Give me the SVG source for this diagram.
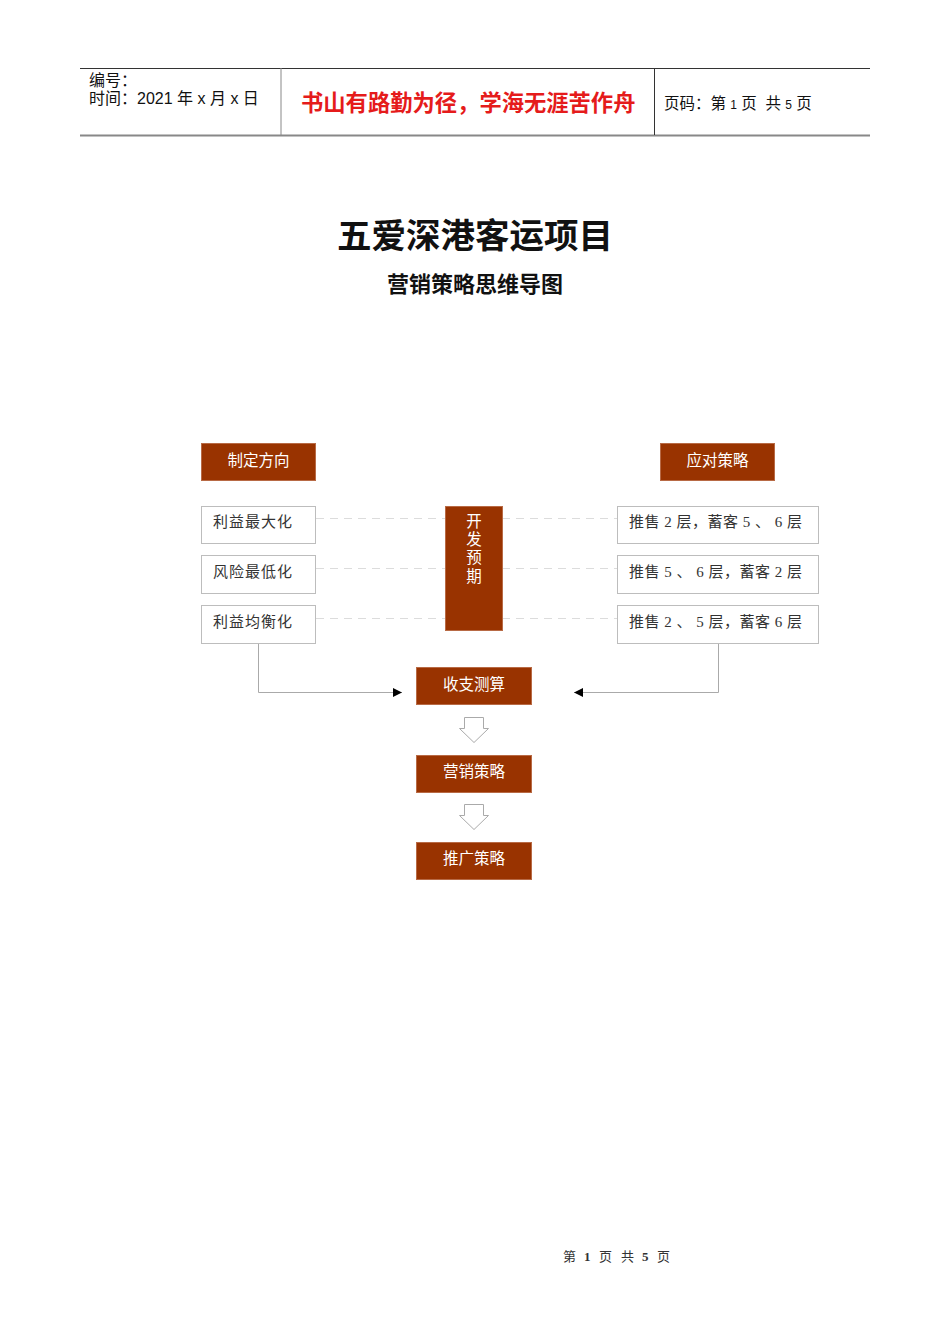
<svg xmlns="http://www.w3.org/2000/svg" width="950" height="1344" viewBox="0 0 950 1344">
<defs>
<style>
.hdr{font-family:"Liberation Sans","Noto Sans CJK SC",sans-serif;fill:#111}
.brown rect{fill:#993300;stroke:#b86a45;stroke-width:1}
.brown text{font-family:"Liberation Sans","Noto Sans CJK SC",sans-serif;font-size:15.5px;fill:#fff;text-anchor:middle}
.white rect{fill:#fff;stroke:#bdbdbd;stroke-width:1}
.white text{font-family:"Liberation Serif","Noto Sans CJK SC",serif;font-size:15px;fill:#333;letter-spacing:1px}
.white text.r{letter-spacing:0.5px}
.dash{stroke:#dcdcdc;stroke-width:1;stroke-dasharray:8,6;fill:none}
.conn{stroke:#aaa;stroke-width:1;fill:none}
.hollow{fill:#fff;stroke:#aaa;stroke-width:1}
.ft{font-family:"Liberation Serif","Noto Sans CJK SC",serif;font-size:13px;fill:#333}
</style>
<marker id="ah" viewBox="0 0 10 10" refX="10" refY="5" markerWidth="9" markerHeight="9" markerUnits="userSpaceOnUse" orient="auto">
<path d="M0,0 L10,5 L0,10 Z" fill="#000"/>
</marker>
</defs>
<rect width="950" height="1344" fill="#fff"/>

<g id="header">
<line x1="80" y1="68.5" x2="870" y2="68.5" stroke="#333" stroke-width="1"/>
<line x1="80" y1="135.5" x2="870" y2="135.5" stroke="#888" stroke-width="2"/>
<line x1="281" y1="68" x2="281" y2="135" stroke="#888" stroke-width="1"/>
<line x1="654.5" y1="68" x2="654.5" y2="135" stroke="#333" stroke-width="1"/>
<text class="hdr" x="89" y="86" font-size="16">编号：</text>
<text class="hdr" x="89" y="104" font-size="16">时间：2021 年 x 月 x 日</text>
<text x="301" y="111" font-family="Liberation Sans,Noto Sans CJK SC,sans-serif" font-size="22.3" font-weight="bold" fill="#e51b1b">书山有路勤为径，学海无涯苦作舟</text>
<text class="hdr" x="664" y="109" font-size="15.5" xml:space="preserve">页码：第 <tspan font-size="12">1</tspan> 页  共 <tspan font-size="12">5</tspan> 页</text>
</g>

<g id="title">
<text x="475" y="248" font-family="Liberation Sans,Noto Sans CJK SC,sans-serif" font-size="34.5" font-weight="bold" fill="#111" text-anchor="middle">五爱深港客运项目</text>
<text x="475" y="292" font-family="Liberation Sans,Noto Sans CJK SC,sans-serif" font-size="22" font-weight="bold" fill="#111" text-anchor="middle">营销策略思维导图</text>
</g>

<g id="connectors">
<line class="dash" x1="316" y1="518.5" x2="445" y2="518.5"/>
<line class="dash" x1="316" y1="568.5" x2="445" y2="568.5"/>
<line class="dash" x1="316" y1="618.5" x2="445" y2="618.5"/>
<line class="dash" x1="502" y1="518.5" x2="617" y2="518.5"/>
<line class="dash" x1="502" y1="568.5" x2="617" y2="568.5"/>
<line class="dash" x1="502" y1="618.5" x2="617" y2="618.5"/>
<polyline class="conn" points="258.5,643 258.5,692.5 402,692.5" marker-end="url(#ah)"/>
<polyline class="conn" points="718.5,643 718.5,692.5 574,692.5" marker-end="url(#ah)"/>
<path class="hollow" d="M464.5,717.5 H483.5 V728.5 H488.5 L474,742.5 L459.5,728.5 H464.5 Z"/>
<path class="hollow" d="M464.5,804.5 H483.5 V815.5 H488.5 L474,829.5 L459.5,815.5 H464.5 Z"/>
</g>

<g id="n-direction" class="brown"><rect x="201.5" y="443.5" width="114" height="37"/><text x="258.5" y="466">制定方向</text></g>
<g id="n-strategy" class="brown"><rect x="660.5" y="443.5" width="114" height="37"/><text x="717.5" y="466">应对策略</text></g>

<g id="n-l1" class="white"><rect x="201.5" y="506.5" width="114" height="37"/><text x="213" y="527">利益最大化</text></g>
<g id="n-l2" class="white"><rect x="201.5" y="555.5" width="114" height="38"/><text x="213" y="577">风险最低化</text></g>
<g id="n-l3" class="white"><rect x="201.5" y="605.5" width="114" height="38"/><text x="213" y="627">利益均衡化</text></g>

<g id="n-expect" class="brown"><rect x="445.5" y="506.5" width="57" height="124"/>
<text x="474" y="527">开</text><text x="474" y="545">发</text><text x="474" y="563">预</text><text x="474" y="582">期</text></g>

<g id="n-r1" class="white"><rect x="617.5" y="506.5" width="201" height="37"/><text class="r" x="629" y="527">推售 2 层，蓄客 5 、 6 层</text></g>
<g id="n-r2" class="white"><rect x="617.5" y="555.5" width="201" height="38"/><text class="r" x="629" y="577">推售 5 、 6 层，蓄客 2 层</text></g>
<g id="n-r3" class="white"><rect x="617.5" y="605.5" width="201" height="38"/><text class="r" x="629" y="627">推售 2 、 5 层，蓄客 6 层</text></g>

<g id="n-budget" class="brown"><rect x="416.5" y="667.5" width="115" height="37"/><text x="474" y="690">收支测算</text></g>
<g id="n-marketing" class="brown"><rect x="416.5" y="755.5" width="115" height="37"/><text x="474" y="777">营销策略</text></g>
<g id="n-promo" class="brown"><rect x="416.5" y="842.5" width="115" height="37"/><text x="474" y="864">推广策略</text></g>

<g id="footer">
<text class="ft" x="563" y="1261">第</text>
<text class="ft" x="584" y="1261" font-weight="bold">1</text>
<text class="ft" x="599" y="1261">页</text>
<text class="ft" x="621" y="1261">共</text>
<text class="ft" x="642" y="1261" font-weight="bold">5</text>
<text class="ft" x="657" y="1261">页</text>
</g>
</svg>
